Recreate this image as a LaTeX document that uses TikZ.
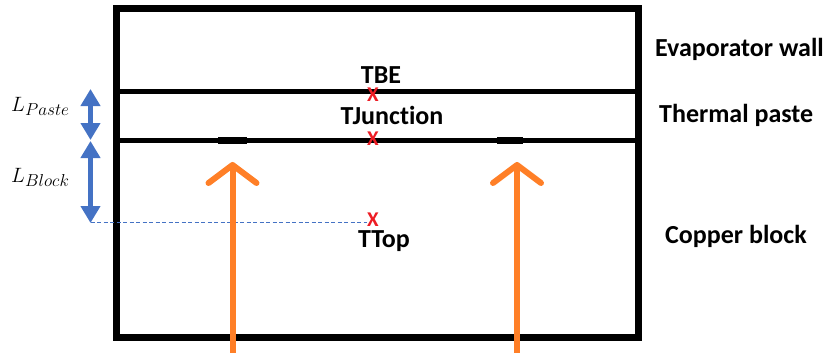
\documentclass[tikz,border=0pt]{standalone}
\usepackage{fontspec}
\setmainfont{Carlito}[Ligatures=NoCommon]
\usetikzlibrary{arrows.meta}
\DeclareMathSizes{21}{21}{16}{12}
\definecolor{orng}{RGB}{255,127,39}
\definecolor{blu}{RGB}{68,114,196}
\definecolor{xred}{RGB}{237,28,36}
\begin{document}
\begin{tikzpicture}[x=1pt,y=-1pt,
  wall/.style={line width=7pt},
  layer/.style={line width=5pt},
  lbl/.style={font=\fontsize{26}{30}\selectfont\bfseries, inner sep=0pt},
  xmk/.style={text=xred, font=\fontsize{21}{24}\selectfont\bfseries, inner sep=0pt},
  mlbl/.style={font=\fontsize{21}{25}\selectfont, inner sep=0pt, anchor=base west},
  dimarrow/.style={blu, line width=5pt, {Triangle[length=17pt,width=19pt]}-{Triangle[length=17pt,width=19pt]}},
  flux/.style={orng, line width=6pt},
  chev/.style={orng, line width=6pt, line cap=round, line join=round}
]
\useasboundingbox (0,0) rectangle (835,353);
% structure
\draw[wall] (116,9) rectangle (638.5,337);
\coordinate (l1w) at (116,91);
\coordinate (l1e) at (638.5,91);
\coordinate (l2w) at (116,140);
\coordinate (l2e) at (638.5,140);
\draw[layer] (l1w) -- (l1e);
\draw[layer] (l2w) -- (l2e);
\draw[line width=7pt] (218,140) -- (247,140);
\draw[line width=7pt] (497,140) -- (523,140);
% labels right
\node[lbl, anchor=base west] (evap) at (655,57) {Evaporator wall};
\node[lbl, anchor=base west] (paste) at (659,122) {Thermal paste};
\node[lbl, anchor=base west] (copper) at (665,243) {Copper block};
% temperature labels
\node[lbl, anchor=base] (tbe) at (381,83.5) {TBE};
\node[lbl, anchor=base] (tjun) at (392,124) {TJunction};
\node[lbl, anchor=base] (ttop) at (384,247.5) {TTop};
\node[xmk] (x1) at (373,95) {X};
\node[xmk] (x2) at (373,139) {X};
\node[xmk] (x3) at (373,219.5) {X};
% dimensions
\coordinate (pT) at (90.5,89);
\coordinate (pB) at (90.5,140);
\coordinate (bT) at (90.5,141);
\coordinate (bB) at (90.5,223);
\draw[dimarrow] (pT) -- (pB);
\draw[dimarrow] (bT) -- (bB);
\coordinate (dS) at (90.5,222);
\draw[blu, line width=0.8pt, dash pattern=on 4pt off 2.5pt] (dS) -- (x3.west |- dS);
\node[mlbl] (lp) at (11,111) {$L_{Paste}$};
\node[mlbl] (lb) at (11,182) {$L_{Block}$};
% heat flux arrows
\coordinate (a1b) at (232.5,353);
\coordinate (a1t) at (232.5,165);
\coordinate (a2b) at (517,353);
\coordinate (a2t) at (517,165);
\draw[flux] (a1b) -- ([yshift=-2pt]a1t);
\draw[flux] (a2b) -- ([yshift=-2pt]a2t);
\draw[chev] ([shift={(-24,18)}]a1t) -- (a1t) -- ([shift={(24,18)}]a1t);
\draw[chev] ([shift={(-24,18)}]a2t) -- (a2t) -- ([shift={(24,18)}]a2t);
\end{tikzpicture}
\end{document}
